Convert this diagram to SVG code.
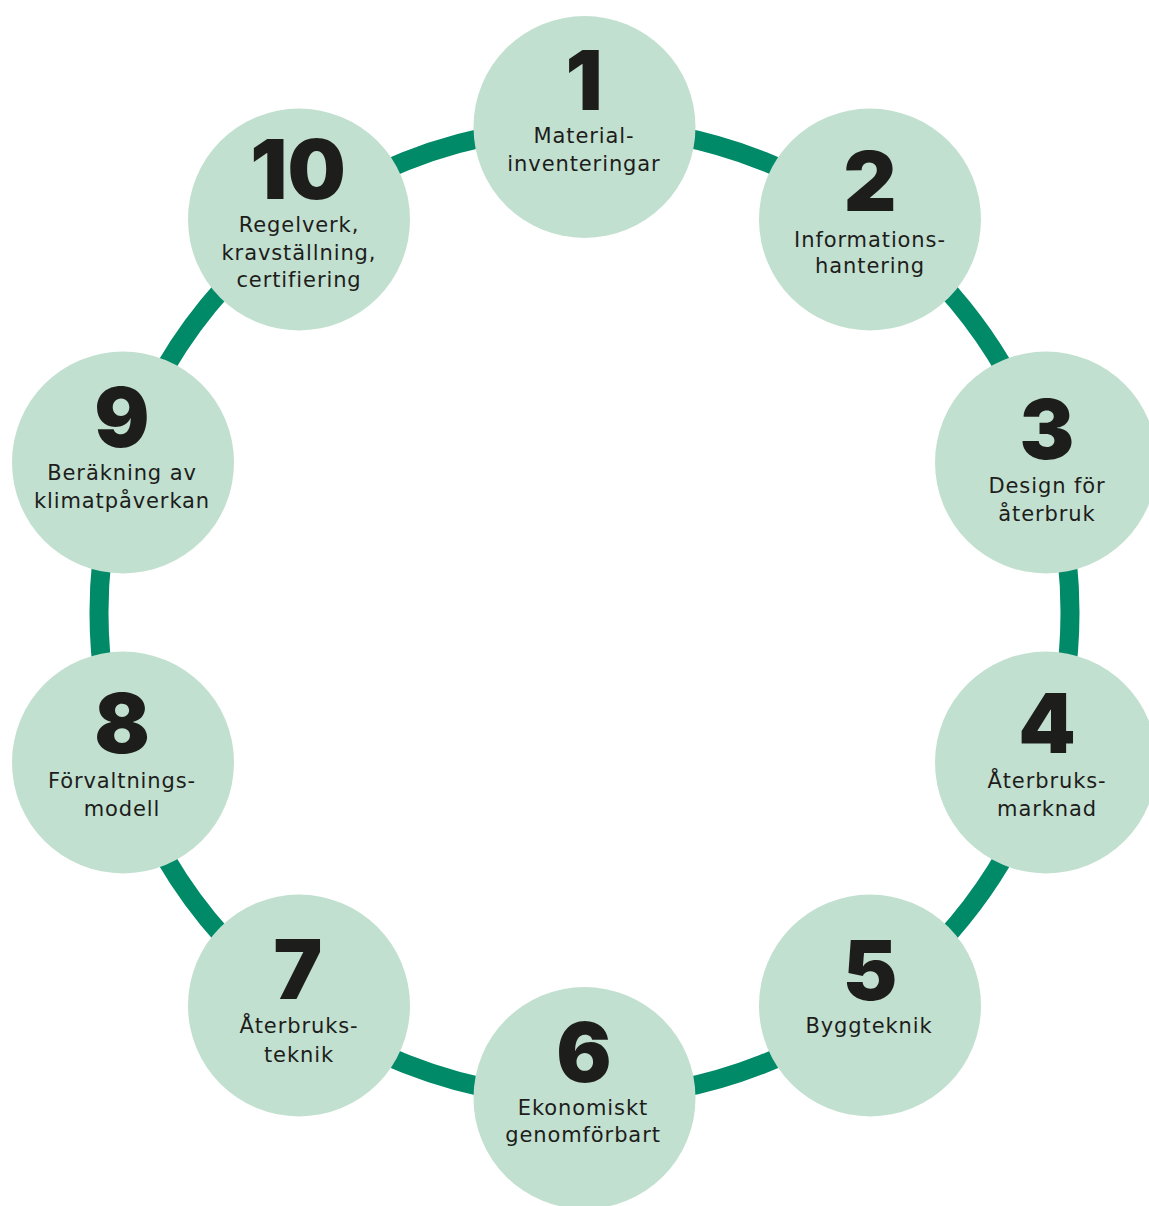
<svg xmlns="http://www.w3.org/2000/svg" width="1149" height="1206" viewBox="0 0 1149 1206">
<style>
.ring{fill:none;stroke:#008a68;stroke-width:19}
.node{fill:#c2e0d0}
.num{font-family:Inter,"DejaVu Sans",sans-serif;font-weight:900;font-size:82px;fill:#1d1d1b;text-anchor:middle}
.lbl{font-family:"DejaVu Sans",sans-serif;font-size:21px;fill:#1d1d1b;text-anchor:middle;letter-spacing:0.9px}
</style>
<rect width="1149" height="1206" fill="#ffffff"/>
<g id="connectors">
<circle class="ring" cx="584.5" cy="612.5" r="485.5"/>
</g>
<g id="node1">
<circle class="node" cx="584.5" cy="127" r="111"/>
<text class="num" x="584" y="110">1</text>
<text class="lbl" x="584" y="143">Material-</text>
<text class="lbl" x="584" y="171">inventeringar</text>
</g>
<g id="node2">
<circle class="node" cx="870" cy="219.5" r="111"/>
<text class="num" x="870" y="211">2</text>
<text class="lbl" x="870" y="247">Informations-</text>
<text class="lbl" x="870" y="273">hantering</text>
</g>
<g id="node3">
<circle class="node" cx="1046" cy="462.5" r="111"/>
<text class="num" x="1047" y="459">3</text>
<text class="lbl" x="1047" y="493">Design för</text>
<text class="lbl" x="1047" y="521">återbruk</text>
</g>
<g id="node4">
<circle class="node" cx="1046" cy="762.5" r="111"/>
<text class="num" x="1047" y="753">4</text>
<text class="lbl" x="1047" y="788">Återbruks-</text>
<text class="lbl" x="1047" y="816">marknad</text>
</g>
<g id="node5">
<circle class="node" cx="870" cy="1005.5" r="111"/>
<text class="num" x="870" y="1000">5</text>
<text class="lbl" x="869" y="1033">Byggteknik</text>
</g>
<g id="node6">
<circle class="node" cx="584.5" cy="1098" r="111"/>
<text class="num" x="584" y="1082">6</text>
<text class="lbl" x="583" y="1115">Ekonomiskt</text>
<text class="lbl" x="583" y="1142">genomförbart</text>
</g>
<g id="node7">
<circle class="node" cx="299" cy="1005.5" r="111"/>
<text class="num" x="298" y="999">7</text>
<text class="lbl" x="299" y="1033">Återbruks-</text>
<text class="lbl" x="299" y="1062">teknik</text>
</g>
<g id="node8">
<circle class="node" cx="123" cy="762.5" r="111"/>
<text class="num" x="122" y="753">8</text>
<text class="lbl" x="122" y="788">Förvaltnings-</text>
<text class="lbl" x="122" y="816">modell</text>
</g>
<g id="node9">
<circle class="node" cx="123" cy="462.5" r="111"/>
<text class="num" x="122" y="447">9</text>
<text class="lbl" x="122" y="480">Beräkning av</text>
<text class="lbl" x="122" y="508">klimatpåverkan</text>
</g>
<g id="node10">
<circle class="node" cx="299" cy="219.5" r="111"/>
<text class="num" x="298" y="199">10</text>
<text class="lbl" x="299" y="232">Regelverk,</text>
<text class="lbl" x="299" y="260">kravställning,</text>
<text class="lbl" x="299" y="287">certifiering</text>
</g>
</svg>
